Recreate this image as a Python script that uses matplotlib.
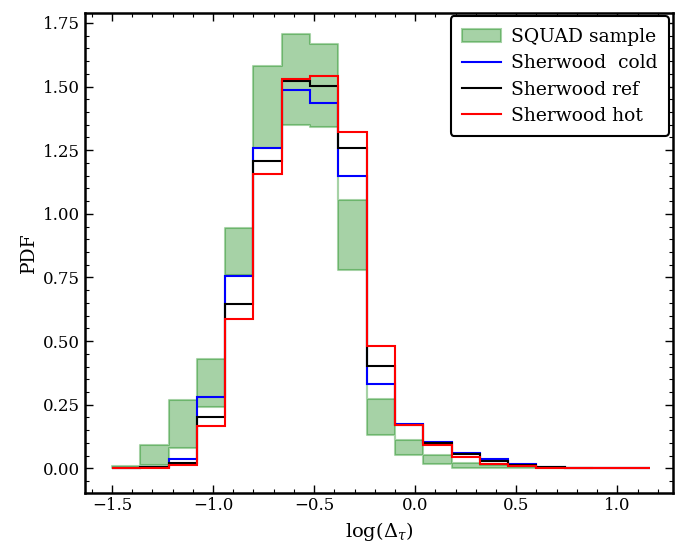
import matplotlib
matplotlib.use("Agg")
import matplotlib.pyplot as plt
import numpy as np

# bin edges of log(Delta_tau)
edges = np.round(np.arange(-1.5, 1.17, 0.14), 2)

# SQUAD sample band (lower / upper PDF per bin)
squad_low = [0.0, 0.015, 0.08, 0.24, 0.76, 1.26, 1.35, 1.34, 0.78, 0.132,
             0.051, 0.017, 0.0, 0.003, 0.0, 0.0, 0.0]
squad_high = [0.01, 0.09, 0.267, 0.43, 0.944, 1.58, 1.705, 1.666, 1.055, 0.272,
              0.113, 0.054, 0.021, 0.012, 0.008, 0.003, 0.001]

# Sherwood simulations
sher_cold = [0.003, 0.005, 0.038, 0.279, 0.755, 1.258, 1.488, 1.434, 1.15, 0.333,
             0.175, 0.105, 0.062, 0.036, 0.017, 0.006, 0.002, 0.001, 0.0]
sher_ref = [0.003, 0.005, 0.02, 0.203, 0.647, 1.207, 1.521, 1.502, 1.258, 0.401,
            0.172, 0.10, 0.055, 0.027, 0.013, 0.004, 0.001, 0.001, 0.0]
sher_hot = [0.002, 0.003, 0.012, 0.168, 0.585, 1.155, 1.531, 1.54, 1.32, 0.48,
            0.169, 0.093, 0.045, 0.018, 0.01, 0.003, 0.001, 0.001, 0.0]

plt.rcParams['font.family'] = 'DejaVu Serif'
plt.rcParams['mathtext.fontset'] = 'dejavuserif'

fig = plt.figure(figsize=(6.77, 5.42), dpi=100)
ax = fig.add_axes([0.1256, 0.0913, 0.8684, 0.8853])

# squad band drawn as step fill
n_sq = len(squad_low)
x_sq = edges[:n_sq + 1]
low_sq = np.append(squad_low, squad_low[-1])
high_sq = np.append(squad_high, squad_high[-1])
ax.fill_between(x_sq, low_sq, high_sq, step='post', color='green', alpha=0.35,
                lw=1.5, label='SQUAD sample')

ax.stairs(sher_cold, edges, color='blue', lw=1.5, label='Sherwood  cold')
ax.stairs(sher_ref, edges, color='black', lw=1.5, label='Sherwood ref')
ax.stairs(sher_hot, edges, color='red', lw=1.5, label='Sherwood hot')

ax.set_xlabel(r'$\log(\Delta_\tau)$', fontsize=14)
ax.set_ylabel('PDF', fontsize=13.5)
ax.set_xlim(-1.633, 1.275)
ax.set_ylim(-0.095, 1.79)

ax.xaxis.set_minor_locator(matplotlib.ticker.MultipleLocator(0.1))
ax.yaxis.set_major_locator(matplotlib.ticker.MultipleLocator(0.25))
ax.yaxis.set_major_formatter(matplotlib.ticker.FormatStrFormatter('%.2f'))
ax.yaxis.set_minor_locator(matplotlib.ticker.MultipleLocator(0.05))
ax.tick_params(which='both', direction='in', top=True, right=True, labelsize=12)
ax.tick_params(which='major', length=6, width=1)
ax.tick_params(which='minor', length=3, width=0.8)
for sp in ax.spines.values():
    sp.set_linewidth(1.8)

leg = ax.legend(loc='upper right', fontsize=13.5, handlelength=2.1,
                labelspacing=0.45, borderpad=0.6, handletextpad=0.55,
                borderaxespad=0.2, fancybox=True)
leg.get_frame().set_edgecolor('black')
leg.get_frame().set_linewidth(1.5)
leg.get_frame().set_alpha(1)

fig.savefig('out.png', dpi=100)
